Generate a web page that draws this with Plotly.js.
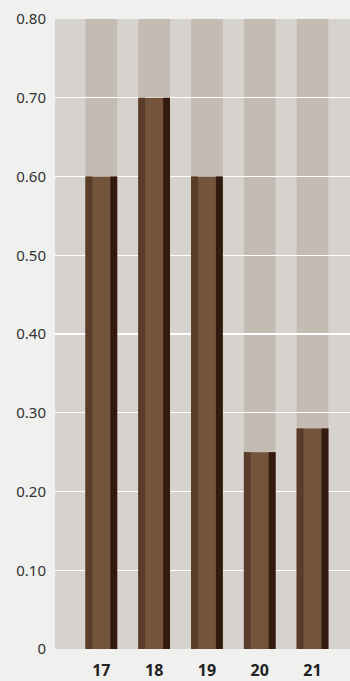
<!DOCTYPE html>
<html>
<head>
<meta charset="utf-8">
<script src="https://cdn.plot.ly/plotly-3.0.1.min.js"></script>
<style>html,body{margin:0;padding:0;background:#f0f0ee;}#chart{width:350px;height:681px;}</style>
</head>
<body>
<div id="chart"></div>
<script>
// Data
var categories = [17, 18, 19, 20, 21];
var values = [0.60, 0.70, 0.60, 0.25, 0.28];
var maxValues = [0.80, 0.80, 0.80, 0.80, 0.80];
var yTickVals = [0, 0.1, 0.2, 0.3, 0.4, 0.5, 0.6, 0.7, 0.8];
var yTickText = ['0', '0.10', '0.20', '0.30', '0.40', '0.50', '0.60', '0.70', '0.80'];
var xTickText = ['17', '18', '19', '20', '21'];

var BW = 0.6, SW = 0.13;
var traces = [
  {type: 'bar', x: categories, y: maxValues, xaxis: 'x', yaxis: 'y',
   width: BW, offset: -BW/2, marker: {color: '#c4bbb2'}, hoverinfo: 'skip'},
  {type: 'bar', x: categories, y: values, xaxis: 'x2', yaxis: 'y2',
   width: BW, offset: -BW/2, marker: {color: '#74553c'}},
  {type: 'bar', x: categories, y: values, xaxis: 'x2', yaxis: 'y2',
   width: SW, offset: -BW/2, marker: {color: '#5a3c2a'}, hoverinfo: 'skip'},
  {type: 'bar', x: categories, y: values, xaxis: 'x2', yaxis: 'y2',
   width: SW, offset: BW/2 - SW, marker: {color: '#331a0f'}, hoverinfo: 'skip'}
];

var xr = [16.122, 21.71];
var layout = {
  width: 350, height: 681,
  margin: {l: 55, r: 0, t: 19, b: 32},
  paper_bgcolor: '#f0f0ee',
  plot_bgcolor: 'rgba(0,0,0,0)',
  showlegend: false,
  barmode: 'overlay',
  font: {family: '"Source Sans Pro", "Noto Sans", sans-serif', color: '#333'},
  shapes: [{type: 'rect', xref: 'paper', yref: 'paper', x0: 0, x1: 1, y0: 0, y1: 1,
            fillcolor: '#d6d3cf', line: {width: 0}, layer: 'below'}],
  xaxis: {domain: [0, 1], range: xr, showgrid: false, zeroline: false, showticklabels: false, fixedrange: true},
  yaxis: {domain: [0, 1], range: [0, 0.8], showgrid: false, zeroline: false, showticklabels: false, fixedrange: true},
  xaxis2: {domain: [0, 1], anchor: 'y2', range: xr, showgrid: false, zeroline: false,
           tickmode: 'array', tickvals: categories, ticktext: xTickText, ticks: '',
           ticklabelstandoff: 10,
           tickfont: {size: 16, color: '#222', weight: 'bold'}},
  yaxis2: {domain: [0, 1], anchor: 'x2', range: [0, 0.8], showgrid: true, gridcolor: '#ffffff', gridwidth: 1.2,
           zeroline: false, tickmode: 'array', tickvals: yTickVals, ticktext: yTickText, ticks: '',
           ticklabelstandoff: 8,
           tickfont: {size: 15, color: '#333'}}
};
Plotly.newPlot('chart', traces, layout, {displayModeBar: false, staticPlot: true});
</script>
</body>
</html>
